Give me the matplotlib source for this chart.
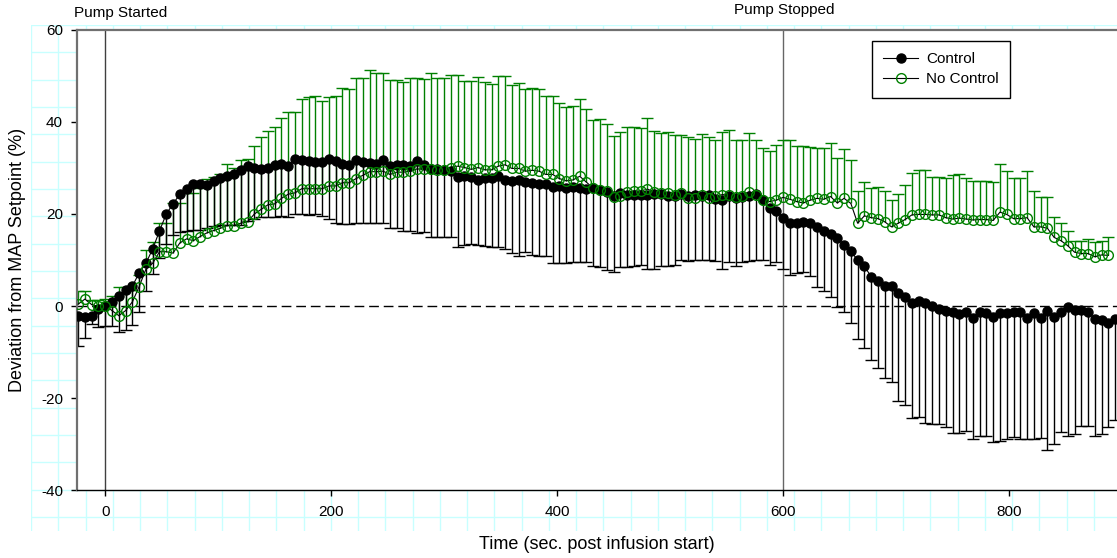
import numpy as np
import matplotlib.pyplot as plt
from matplotlib.transforms import blended_transform_factory

plt.rcParams.update({
    'font.family': 'Liberation Sans',
    'font.size': 11,
    'axes.unicode_minus': False,
})

# sample times (s post infusion start), one sample every 6 s
t = np.arange(-24, 895, 6)

# Control: mean and lower end of the error bar (mean - SD)
ctrl_mean = [
    -2.2, -2.4, -2.2, -0.7, 0.0, 0.9, 2.2, 3.5, 4.3, 7.2, 9.3, 12.4, 16.3, 20.0, 22.2, 24.3, 25.4, 26.5, 26.5, 26.2, 27.2, 27.8, 28.3, 28.6, 29.6,
    30.4, 30.0, 29.7, 29.9, 30.6, 30.9, 30.4, 31.9, 31.8, 31.6, 31.4, 31.3, 32.0, 31.6, 30.8, 30.7, 31.7, 31.3, 31.0, 30.8, 31.7, 30.4, 30.6, 30.6, 30.4, 31.5,
    30.6, 29.7, 29.7, 29.6, 29.3, 28.1, 28.2, 28.1, 27.5, 27.9, 27.9, 28.2, 27.5, 27.2, 27.5, 27.0, 26.7, 26.6, 26.6, 25.9, 26.0, 25.6, 25.8, 25.7, 25.4, 25.6,
    25.2, 24.7, 23.9, 24.5, 24.1, 24.1, 24.1, 24.1, 24.4, 24.3, 23.9, 23.9, 24.4, 23.9, 24.2, 23.9, 24.1, 23.2, 23.1, 23.9, 23.4, 23.7, 23.9, 24.4, 23.1, 21.2,
    20.7, 19.2, 18.1, 18.1, 18.2, 18.0, 17.2, 16.3, 15.6, 14.7, 13.3, 12.0, 9.9, 8.6, 6.4, 5.4, 4.4, 4.4, 2.9, 2.0, 0.7, 1.1, 0.7, -0.1, -0.7, -1.1,
    -1.3, -1.7, -1.2, -2.5, -1.3, -1.6, -2.3, -1.6, -1.5, -1.3, -1.3, -2.5, -1.6, -2.5, -1.0, -2.3, -1.3, -0.3, -0.9, -0.9, -1.2, -2.9, -3.0, -3.8, -2.8,
]
ctrl_low = [
    -8.7, -6.9, -4.0, -4.5, -4.4, -4.3, -5.6, -5.3, -4.1, -1.2, 3.3, 7.0, 10.5, 13.5, 15.5, 16.0, 16.2, 16.5, 16.5, 17.0, 17.3, 17.6, 17.6, 17.6, 17.6,
    18.5, 19.0, 19.3, 19.3, 19.3, 19.5, 19.3, 20.0, 20.0, 19.8, 19.9, 19.6, 18.9, 18.1, 17.9, 17.9, 18.0, 18.0, 18.1, 18.0, 18.0, 17.0, 17.0, 16.2, 16.3, 15.9,
    16.0, 15.1, 14.9, 14.9, 14.9, 12.9, 13.3, 13.5, 13.2, 13.0, 12.9, 12.9, 12.4, 11.6, 10.9, 11.7, 11.0, 10.9, 10.9, 9.3, 9.3, 9.4, 9.6, 9.6, 9.6, 8.6,
    8.4, 7.8, 7.3, 8.4, 8.4, 8.8, 9.0, 8.0, 8.1, 8.6, 8.8, 9.0, 10.1, 9.7, 9.9, 9.9, 9.9, 9.8, 8.0, 9.5, 8.8, 9.6, 9.8, 10.1, 10.1, 9.0,
    9.6, 8.0, 6.7, 7.2, 7.4, 6.5, 4.2, 3.3, 1.9, -0.3, -1.4, -3.6, -7.2, -9.2, -11.7, -13.5, -15.6, -16.6, -20.7, -21.5, -24.3, -24.2, -25.5, -25.6, -25.6, -26.2,
    -27.7, -27.7, -27.2, -29.0, -28.3, -28.3, -29.5, -29.3, -29.0, -28.4, -29.0, -29.0, -29.0, -28.8, -31.2, -29.9, -27.4, -28.2, -27.9, -26.1, -26.0, -28.2, -27.9, -26.2, -24.8,
]

# No Control: mean and upper end of the error bar (mean + SD)
nc_mean = [
    0.4, 1.5, 0.3, -0.1, 0.1, -1.0, -2.1, -1.0, 0.9, 4.2, 8.0, 9.3, 11.8, 11.8, 11.5, 13.7, 14.6, 14.2, 15.1, 15.9, 16.4, 16.9, 17.5, 17.5, 18.0,
    18.3, 20.0, 21.0, 22.0, 22.2, 23.4, 24.3, 24.6, 25.5, 25.5, 25.5, 25.5, 26.1, 26.1, 26.8, 26.8, 27.7, 28.4, 29.2, 29.2, 29.3, 28.6, 29.1, 29.1, 29.3, 29.8,
    29.7, 29.7, 29.6, 29.6, 30.1, 30.4, 30.1, 29.7, 30.1, 29.6, 29.6, 30.4, 30.7, 29.9, 29.9, 29.3, 29.5, 29.3, 28.6, 28.6, 27.7, 27.2, 27.4, 28.2, 26.9, 25.6,
    25.2, 25.0, 23.8, 23.9, 24.8, 25.0, 25.0, 25.4, 24.8, 24.5, 24.6, 24.1, 24.5, 23.4, 23.4, 24.1, 23.4, 23.9, 24.2, 24.2, 23.8, 23.9, 24.8, 24.2, 23.1, 22.7,
    23.0, 23.6, 23.2, 22.7, 22.4, 23.0, 23.4, 23.2, 23.8, 22.4, 23.4, 22.3, 18.0, 19.6, 19.2, 19.0, 18.3, 17.2, 18.0, 18.8, 19.8, 19.9, 19.9, 19.8, 19.8, 19.2,
    18.9, 19.1, 18.9, 18.7, 18.8, 18.8, 18.6, 20.4, 19.9, 19.0, 19.0, 19.2, 17.2, 17.2, 16.9, 14.9, 14.2, 13.1, 11.7, 11.4, 11.4, 10.7, 11.1, 11.0,
]
nc_high = [
    3.3, 3.3, 1.2, 1.2, 1.5, 2.1, 4.1, 4.2, 3.5, 6.7, 12.2, 14.0, 18.1, 18.1, 22.3, 22.3, 24.6, 24.6, 25.7, 27.6, 28.1, 28.8, 30.8, 30.1, 31.7,
    32.0, 34.8, 36.8, 38.1, 39.0, 40.9, 42.2, 42.2, 45.0, 45.4, 45.7, 44.6, 45.4, 45.6, 47.3, 47.2, 49.5, 49.5, 51.4, 50.6, 50.6, 49.1, 49.2, 48.8, 49.5, 49.6,
    49.3, 50.6, 49.5, 49.6, 50.2, 50.3, 48.9, 48.9, 49.8, 48.6, 48.3, 49.9, 49.9, 48.0, 48.4, 47.2, 47.3, 47.2, 45.7, 45.7, 44.1, 43.3, 43.5, 45.0, 42.8, 40.4,
    40.7, 39.5, 37.0, 37.9, 39.0, 39.0, 38.6, 40.8, 38.1, 37.7, 37.9, 37.2, 37.2, 36.7, 36.3, 37.4, 36.8, 36.1, 37.9, 38.3, 36.1, 36.1, 37.7, 36.1, 34.3, 33.7,
    35.0, 36.1, 36.1, 34.8, 34.7, 34.6, 34.3, 34.3, 35.5, 32.2, 34.1, 31.7, 25.0, 27.0, 25.6, 25.8, 25.0, 23.0, 24.4, 26.2, 29.0, 29.6, 29.5, 28.1, 28.0, 27.8,
    28.5, 28.6, 27.8, 27.2, 27.2, 27.2, 26.9, 30.8, 29.4, 27.9, 27.9, 29.3, 25.1, 23.8, 23.7, 19.3, 18.0, 16.3, 14.2, 14.2, 14.5, 14.0, 14.2, 15.1,
]

events = [0, 600]
event_labels = ['Pump Started', 'Pump Stopped']

W, H = 1117, 558
fig = plt.figure(figsize=(W / 100, H / 100), dpi=100)

# light cyan "paper" grid behind everything (pixel units)
bg = fig.add_axes([31 / W, 1 - 531 / H, (W - 31) / W, (531 - 25) / H], zorder=0)
bg.set_xlim(0, W - 31)
bg.set_ylim(531 - 25, 0)
bg.set_xticks(np.arange(0, W - 31, 27.25))
bg.set_yticks(np.arange(0, 493, 27.33))
bg.grid(True, color='#c8ffff', lw=1)
bg.tick_params(length=0, labelleft=False, labelbottom=False)
for s in bg.spines.values():
    s.set_visible(False)

ax = fig.add_axes([77 / W, 1 - 490 / H, (W - 77) / W, 460 / H], zorder=1)
ax.set_facecolor('white')

ctrl_mean = np.array(ctrl_mean)
ctrl_low = np.array(ctrl_low)
nc_mean = np.array(nc_mean)
nc_high = np.array(nc_high)
t_nc = t[:len(nc_mean)]

ax.axhline(0, color='black', lw=1, dashes=(7, 3.5), zorder=1)
ax.axvline(events[0], color='#404040', lw=1, zorder=1)
ax.axvline(events[1], color='#666666', lw=1, zorder=1)

# one-sided error bars
ax.vlines(t_nc, nc_mean, nc_high, color='green', lw=1, zorder=2)
ax.plot(t_nc, nc_high, ls='none', marker='_', ms=8, mew=1, color='green', zorder=2)
ax.vlines(t, ctrl_low, ctrl_mean, color='black', lw=1, zorder=2)
ax.plot(t, ctrl_low, ls='none', marker='_', ms=8, mew=1, color='black', zorder=2)

ax.plot(t, ctrl_mean, '-o', color='black', lw=0.8, ms=6.5, label='Control', zorder=3)
ax.plot(t_nc, nc_mean, '-o', color='black', lw=0.8, mfc='none', mec='green', mew=1,
        ms=7, label='No Control', zorder=4)

ax.set_xlim(-25, 895.6)
ax.set_ylim(-40, 60)
ax.set_xticks([0, 200, 400, 600, 800])
ax.set_yticks([-40, -20, 0, 20, 40, 60])
ax.tick_params(direction='out', length=4, width=1, pad=6, labelsize=11)
ax.tick_params(axis='x', pad=7)

ax.spines['right'].set_visible(False)
ax.spines['top'].set_color('#707070')
ax.spines['top'].set_linewidth(1.6)
ax.spines['left'].set_color('#707070')
ax.spines['left'].set_linewidth(1.6)
ax.spines['bottom'].set_color('black')
ax.spines['bottom'].set_linewidth(1)

ax.set_xlabel('Time (sec. post infusion start)', fontsize=13)
ax.set_ylabel('Deviation from MAP Setpoint (%)', fontsize=13)
ax.xaxis.set_label_coords(0.5, -0.1)
ax.yaxis.set_label_coords(-0.049, 0.5)

# event labels above the plot
trans = blended_transform_factory(ax.transData, ax.transAxes)
ax.text(14, 1.0283, event_labels[0], transform=trans, ha='center', va='baseline', fontsize=11)
ax.text(601, 1.0348, event_labels[1], transform=trans, ha='center', va='baseline', fontsize=11)

leg = ax.legend(loc='upper left', bbox_to_anchor=(0.764, 0.976), borderaxespad=0,
                frameon=True, fancybox=False, framealpha=1, edgecolor='black',
                fontsize=11, handlelength=2.3, handletextpad=0.5, borderpad=0.75,
                labelspacing=0.38)
leg.get_frame().set_linewidth(1)

fig.savefig('out.png', dpi=100)
